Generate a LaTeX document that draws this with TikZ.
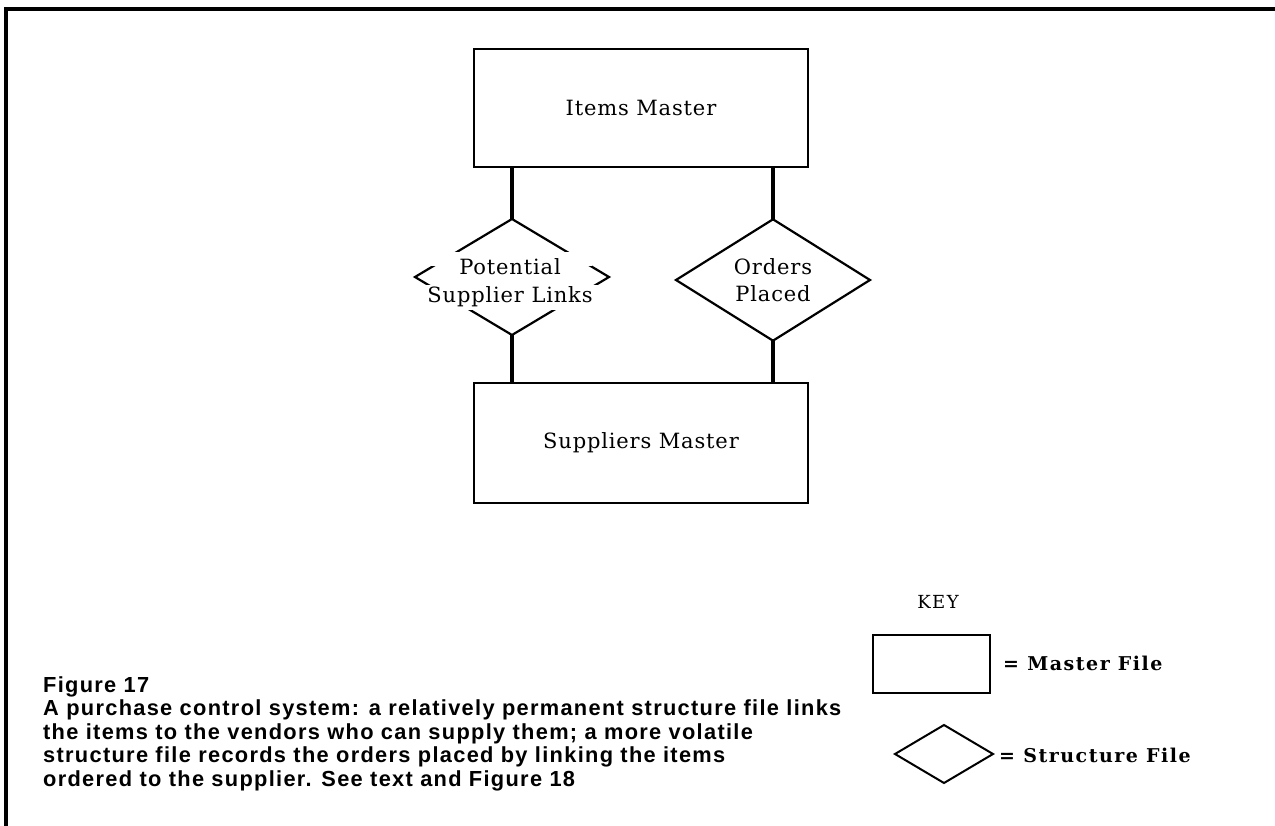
\documentclass[tikz,border=0pt]{standalone}
\usepackage{fontspec}
\usetikzlibrary{shapes.geometric}
\newfontfamily\diafont[LetterSpace=4]{DejaVu Serif}
\newfontfamily\keyfont[LetterSpace=8]{DejaVu Serif}
\newfontfamily\capfont[LetterSpace=6]{Liberation Sans}

\tikzset{
  master/.style={draw, line width=2.2pt, inner sep=0pt, outer sep=0pt,
    minimum width=334pt, minimum height=118pt,
    font=\diafont\fontsize{21}{27}\selectfont},
  structure/.style={draw, diamond, line width=2.2pt, inner sep=0pt, outer sep=0pt,
    minimum width=194pt, minimum height=116pt, align=center,
    font=\diafont\fontsize{21}{27}\selectfont},
  mask/.style={fill=white, draw=none, inner sep=0pt, outer sep=0pt},
  label/.style={inner sep=0pt, align=center, font=\diafont\fontsize{21}{28}\selectfont},
  link/.style={line width=4.5pt},
  keybox/.style={draw, line width=2pt, inner sep=0pt, outer sep=0pt},
  keytext/.style={inner sep=0pt, anchor=west, font=\keyfont\bfseries\fontsize{19}{22}\selectfont},
  frame/.style={line width=4pt},
}

\begin{document}
\begin{tikzpicture}[x=1pt, y=-1pt]
  \useasboundingbox (0,0) rectangle (1275,826);

  % page frame: top rule and left rule
  \coordinate (frameBL) at (6,826);
  \coordinate (frameTL) at (6,9);
  \coordinate (frameTR) at (1275,9);
  \draw[frame] (frameBL) -- (frameTL) -- (frameTR);

  % master files
  \node[master] (items) at (641,108) {Items Master};
  \node[master, minimum height=120pt] (suppliers) at (641,443) {Suppliers Master};

  % structure files
  \node[structure] (psl) at (512,277) {};
  \node[mask, minimum width=164pt, minimum height=14pt] (pslmaskA) at (510,259) {};
  \node[mask, minimum width=186pt, minimum height=25pt] (pslmaskB) at (509,297.5) {};
  \node[label] (psltext) at (510,283) {Potential\\Supplier Links};

  \node[structure] (orders) at (773,280) {Orders\\Placed};

  % links between the files
  \draw[link] (psl.north |- items.south) -- (psl.north);
  \draw[link] (psl.south) -- (psl.south |- suppliers.north);
  \draw[link] (orders.north |- items.south) -- (orders.north);
  \draw[link] (orders.south) -- (orders.south |- suppliers.north);

  % key
  \node[inner sep=0pt, font=\keyfont\fontsize{18}{22}\selectfont] (keytitle) at (938,602) {KEY};
  \node[keybox, minimum width=117pt, minimum height=58pt] (keymaster) at (931.5,664) {};
  \node[keytext] (keymastertext) at (1003,663) {= Master File};
  \node[keybox, diamond, minimum width=98pt, minimum height=58pt] (keystruct) at (944,754) {};
  \node[keytext] (keystructtext) at (999,755) {= Structure File};

  % caption
  \node[anchor=north west, inner sep=0pt, align=left,
        font=\capfont\bfseries\fontsize{21.8}{23.5}\selectfont] (caption) at (43,676)
    {Figure 17\\
     A purchase control system: a relatively permanent structure file links\\
     the items to the vendors who can supply them; a more volatile\\
     structure file records the orders placed by linking the items\\
     ordered to the supplier. See text and Figure 18};
\end{tikzpicture}
\end{document}
